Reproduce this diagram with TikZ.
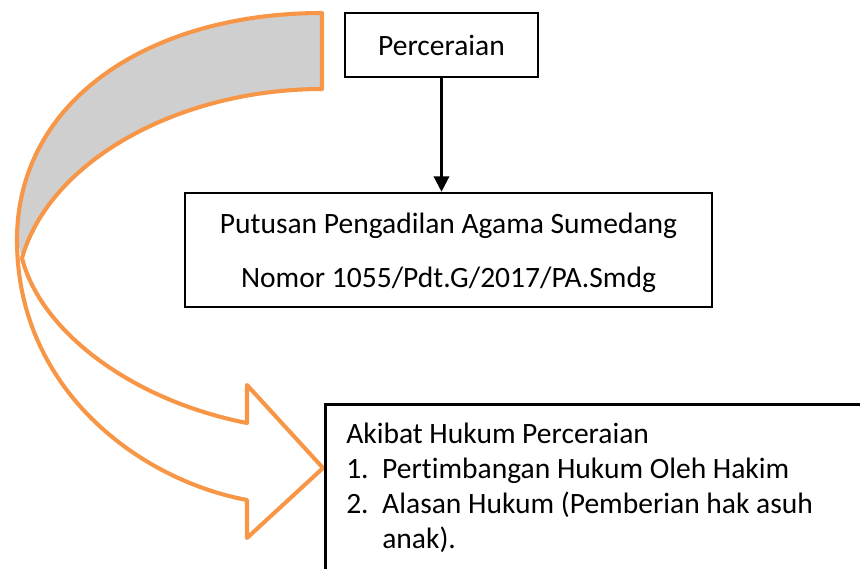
\documentclass[tikz,border=0pt]{standalone}
\usepackage{fontspec}
\setmainfont{Carlito}[Ligatures=NoCommon]
\usetikzlibrary{arrows.meta}
\definecolor{arrorange}{RGB}{247,150,70}
\definecolor{bandgray}{RGB}{207,207,207}
\tikzset{
	box/.style={draw, line width=1.8pt, inner sep=0pt, font=\fontsize{21}{25}\selectfont},
	bend arrow/.style={draw=arrorange, line width=2.9pt, line join=round},
}
\begin{document}
\begin{tikzpicture}[x=0.025cm, y=-0.025cm]
		\useasboundingbox (0,0) rectangle (860,568);
		\clip (0,0) rectangle (860,568);

		\fill[bandgray] (322,13) .. controls (150,13) and (17,100) .. (17,240) -- (22,258) .. controls (50,160) and (180,89) .. (322,89) -- cycle;
		\draw[bend arrow] (322,89) -- (322,13) .. controls (150,13) and (17,100) .. (17,240) .. controls (17,390) and (140,480) .. (247,500) -- (247,538) -- (323,468) -- (247,385) -- (247,423) .. controls (130,400) and (40,330) .. (22,258) .. controls (50,160) and (180,89) .. (322,89) -- cycle;

		\node[box, minimum width=4.825cm, minimum height=1.6cm] (cerai) at (441.5,45) {Perceraian};
		\node[box, minimum width=13.175cm, minimum height=2.85cm, align=center, text height=57pt, font=\fontsize{21}{38.4}\selectfont] (putusan) at (448.5,250) {Putusan Pengadilan Agama Sumedang\\Nomor 1055/Pdt.G/2017/PA.Smdg};
		\node[box, anchor=north west, align=flush left, text width=13.5cm, inner xsep=0.525cm, inner ysep=0.47cm, font=\fontsize{21}{24.9}\selectfont] (akibat) at (324,403) {Akibat Hukum Perceraian\\
			\makebox[25.6pt][l]{1.}Pertimbangan Hukum Oleh Hakim\\
			\makebox[25.6pt][l]{2.}Alasan Hukum (Pemberian hak asuh\\
			\hspace*{25.6pt}anak).};

		\draw[line width=1.6pt, -{Triangle[width=11pt, length=11pt]}] (cerai.south) -- (cerai.south |- putusan.north);
	\end{tikzpicture}
\end{document}
